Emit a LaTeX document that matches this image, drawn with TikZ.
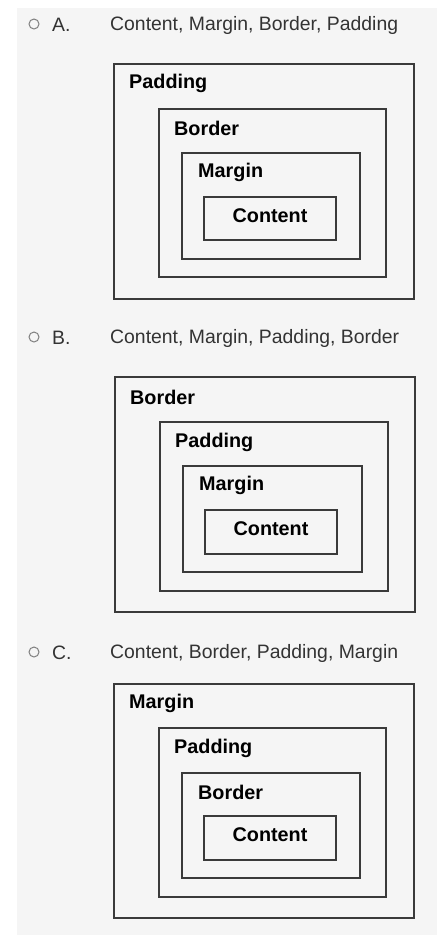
\documentclass[tikz,border=0pt]{standalone}
\usepackage{fontspec}
\setmainfont{Liberation Sans}
\definecolor{bg}{HTML}{F5F5F5}
\definecolor{ln}{HTML}{3A3A3A}
\definecolor{hd}{HTML}{333333}
\begin{document}
\begin{tikzpicture}[x=1pt,y=-1pt,
  box/.style={draw=ln,line width=1.4pt,inner sep=0pt},
  lbl/.style={inner sep=0pt,anchor=west,font=\fontsize{19.8}{20}\selectfont\bfseries,text=black},
  hdr/.style={inner sep=0pt,anchor=west,font=\fontsize{19.4}{20}\selectfont,text=hd},
  radio/.style={circle,draw=gray,line width=1pt,minimum size=10pt,inner sep=0pt}]
\useasboundingbox (0,0) rectangle (437,935);
\fill[white] (0,0) rectangle (437,935);
\fill[bg] (17,8) rectangle (437,935);
% ---------- A ----------
\node[radio] (ra) at (34,24) {};
\node[hdr] (la) at (52,25) {A.};
\node[hdr] (ha) at (110,25) {Content, Margin, Border, Padding};
\node[box,minimum width=300,minimum height=235] (a1) at (264,181.5) {};
\node[box,minimum width=227,minimum height=168] (a2) at (272.5,193) {};
\node[box,minimum width=178,minimum height=106] (a3) at (271,206) {};
\node[box,minimum width=132,minimum height=43] (a4) at (270,218.5) {};
\node[lbl] (a1l) at (129,83) {Padding};
\node[lbl] (a2l) at (174,128) {Border};
\node[lbl] (a3l) at (198,172) {Margin};
\node[lbl,anchor=center] (a4l) at (270,216) {Content};
% ---------- B ----------
\node[radio] (rb) at (34,337) {};
\node[hdr] (lb) at (52,338) {B.};
\node[hdr] (hb) at (110,338) {Content, Margin, Padding, Border};
\node[box,minimum width=300,minimum height=235] (b1) at (265,494.5) {};
\node[box,minimum width=228,minimum height=169] (b2) at (274,506.5) {};
\node[box,minimum width=179,minimum height=106] (b3) at (272.5,519) {};
\node[box,minimum width=132,minimum height=44] (b4) at (271,532) {};
\node[lbl] (b1l) at (130,397) {Border};
\node[lbl] (b2l) at (175,442) {Padding};
\node[lbl] (b3l) at (199,485) {Margin};
\node[lbl,anchor=center] (b4l) at (271,529) {Content};
% ---------- C ----------
\node[radio] (rc) at (34,652) {};
\node[hdr] (lc) at (52,653) {C.};
\node[hdr] (hc) at (110,653) {Content, Border, Padding, Margin};
\node[box,minimum width=300,minimum height=234] (c1) at (264,801) {};
\node[box,minimum width=227,minimum height=169] (c2) at (272.5,812.5) {};
\node[box,minimum width=178,minimum height=105] (c3) at (271,825.5) {};
\node[box,minimum width=132,minimum height=44] (c4) at (270,838) {};
\node[lbl] (c1l) at (129,703) {Margin};
\node[lbl] (c2l) at (174,748) {Padding};
\node[lbl] (c3l) at (198,792) {Border};
\node[lbl,anchor=center] (c4l) at (270,835) {Content};
\end{tikzpicture}
\end{document}
